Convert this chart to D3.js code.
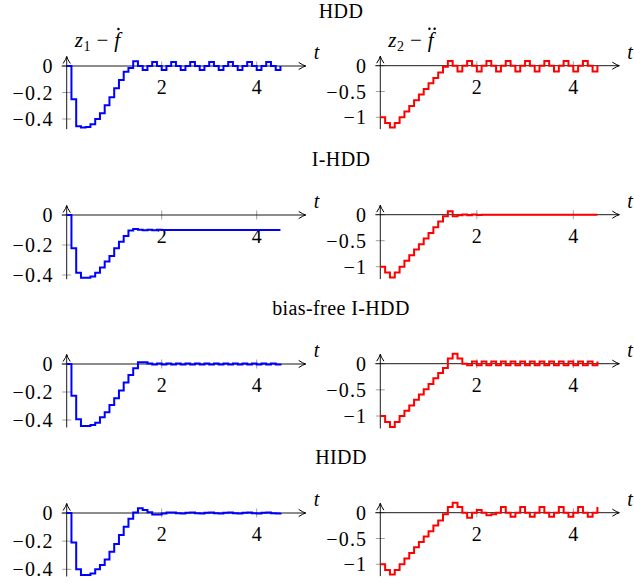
<!DOCTYPE html>
<html><head><meta charset="utf-8">
<script src="https://cdn.jsdelivr.net/npm/d3@7"></script>
<style>body{margin:0;background:#fff}svg{display:block}</style>
</head><body>
<svg id="c" width="634" height="587"></svg>
<script>
// ---------- data ----------
const titles = ["HDD", "I-HDD", "bias-free I-HDD", "HIDD"];
const time = [0,0.1,0.2,0.3,0.4,0.5,0.6,0.7,0.8,0.9,1.0,1.1,1.2,1.3,1.4,1.5,1.6,1.7,1.8,1.9,
  2.0,2.1,2.2,2.3,2.4,2.5,2.6,2.7,2.8,2.9,3.0,3.1,3.2,3.3,3.4,3.5,3.6,3.7,3.8,3.9,
  4.0,4.1,4.2,4.3,4.4,4.5];
const xTicks = [2, 4];
const yTicksZ1 = [0, -0.2, -0.4];
const yTicksZ2 = [0, -0.5, -1];

// z1 - fdot  (left column)
const hddZ1 = [0,-0.25,-0.455,-0.465,-0.46,-0.44,-0.40,-0.357,-0.297,-0.236,-0.168,-0.106,-0.043,-0.015,0.035,0,
  -0.03,0,0.03,0,-0.03,0,0.03,0,-0.03,0,0.03,0,-0.03,0,0.03,0,-0.03,0,0.03,0,-0.03,0,0.03,0,-0.03,0,0.03,0,-0.03,0];
const ihddZ1 = [0,-0.222,-0.385,-0.418,-0.418,-0.41,-0.385,-0.35,-0.31,-0.273,-0.222,-0.178,-0.14,-0.104,-0.093,-0.098,
  -0.102,-0.098,-0.102,-0.099,-0.1,-0.1,-0.1,-0.1,-0.1,-0.1,-0.1,-0.1,-0.1,-0.1,-0.1,-0.1,-0.1,-0.1,-0.1,-0.1,-0.1,-0.1,-0.1,-0.1,-0.1,-0.1,-0.1,-0.1,-0.1,-0.1];
const bfZ1 = [0,-0.226,-0.395,-0.443,-0.443,-0.436,-0.42,-0.38,-0.345,-0.293,-0.245,-0.19,-0.133,-0.079,-0.03,0.012,
  0.012,0.004,-0.003,0.003,-0.003,0.003,-0.003,0.003,-0.003,0.003,-0.003,0.003,-0.003,0.003,-0.003,0.003,-0.003,0.003,-0.003,0.003,-0.003,0.003,-0.003,0.003,-0.003,0.003,-0.003,0.003,-0.003,0.003];
const hiddZ1 = [0,-0.21,-0.40,-0.44,-0.44,-0.43,-0.40,-0.37,-0.33,-0.275,-0.22,-0.157,-0.097,-0.04,0.003,0.034,
  0.022,0.005,-0.01,-0.01,-0.003,0.003,0.003,-0.002,-0.003,0.002,0.003,-0.002,-0.003,0.002,0.003,-0.002,-0.003,0.002,0.003,-0.002,-0.003,0.002,0.003,-0.002,-0.003,0.002,0.003,-0.002,-0.003,0.002];

// z2 - fddot  (right column)
const hddZ2 = [-1.0,-1.11,-1.2,-1.11,-1.0,-0.89,-0.78,-0.67,-0.56,-0.45,-0.34,-0.24,-0.13,-0.02,0.09,0,
  -0.11,0,0.09,0,-0.11,0,0.09,0,-0.11,0,0.09,0,-0.11,0,0.09,0,-0.11,0,0.09,0,-0.11,0,0.09,0,-0.11,0,0.09,0,-0.11,0];
const ihddZ2 = [-1.0,-1.11,-1.21,-1.11,-1.0,-0.885,-0.78,-0.67,-0.57,-0.46,-0.35,-0.24,-0.13,-0.03,0.065,-0.03,
  -0.01,0.006,-0.01,0.006,-0.004,0,0,0,0,0,0,0,0,0,0,0,0,0,0,0,0,0,0,0,0,0,0,0,0,0];
const bfZ2 = [-1.0,-1.115,-1.21,-1.115,-1.0,-0.9,-0.8,-0.69,-0.59,-0.49,-0.39,-0.28,-0.18,-0.08,0.1,0.19,
  0.1,0,-0.03,0.04,-0.03,0.04,-0.03,0.04,-0.03,0.04,-0.03,0.04,-0.03,0.04,-0.03,0.04,-0.03,0.04,-0.03,0.04,-0.03,0.04,-0.03,0.04,-0.03,0.04,-0.03,0.04,-0.03,0.04];
const hiddZ2 = [-1.0,-1.11,-1.2,-1.11,-1.0,-0.89,-0.78,-0.67,-0.57,-0.46,-0.36,-0.25,-0.15,-0.03,0.11,0.195,
  0.11,0,-0.1,0,0.05,0,-0.05,-0.03,0,0.11,0,-0.08,0,0.11,0,-0.08,0,0.11,0,-0.08,0,0.11,0,-0.08,0,0.11,0,-0.08,0,0.11];

const z1Series = [hddZ1, ihddZ1, bfZ1, hiddZ1];
const z2Series = [hddZ2, ihddZ2, bfZ2, hiddZ2];

// ---------- layout ----------
const rowZero = [66, 215, 364, 513];          // pixel row of value 0
const leftRef = [119, 275, 420, 569.3];        // pixel row of -0.4 (left)
const rightRef = [117.3, 266.7, 416, 564.3];   // pixel row of -1 (right)
const titleY = [18, 166, 315, 464];
const FONT = "'Liberation Serif', 'Times New Roman', serif";

const svg = d3.select("#c");

function drawPanel(p) {
  const x = d3.scaleLinear().domain([0, 4]).range([p.xa, p.xb]);
  const y = d3.scaleLinear().domain([p.refVal, 0]).range([p.yRef, p.y0]);
  const g = svg.append("g");
  const x0 = x(0), y0 = y(0);
  const xEnd = x0 + 239;
  const yMin = d3.min(p.values);
  const yBottom = y(yMin) + 1.5;
  const yTop = y0 - 9.5;

  // ticks (gray)
  g.selectAll(".xt").data(xTicks).join("line")
    .attr("x1", d => x(d)).attr("x2", d => x(d))
    .attr("y1", y0 - 4.5).attr("y2", y0 + 4.5)
    .attr("stroke", "#a0a0a0").attr("stroke-width", 1);
  g.selectAll(".yt").data(p.ticks).join("line")
    .attr("x1", x0 - 4.5).attr("x2", x0 + 4.5)
    .attr("y1", d => y(d)).attr("y2", d => y(d))
    .attr("stroke", "#a0a0a0").attr("stroke-width", 1);

  // axes
  g.append("line").attr("x1", x0 - 5).attr("x2", xEnd).attr("y1", y0).attr("y2", y0)
    .attr("stroke", "#000").attr("stroke-width", 0.9);
  g.append("line").attr("x1", x0).attr("x2", x0).attr("y1", yBottom).attr("y2", yTop)
    .attr("stroke", "#000").attr("stroke-width", 0.9);
  g.append("path")
    .attr("d", `M${xEnd-7},${y0-3.6} Q${xEnd-2.5},${y0-0.6} ${xEnd},${y0} Q${xEnd-2.5},${y0+0.6} ${xEnd-7},${y0+3.6}`)
    .attr("fill", "none").attr("stroke", "#000").attr("stroke-width", 1);
  g.append("path")
    .attr("d", `M${x0-3.6},${yTop+7} Q${x0-0.6},${yTop+2.5} ${x0},${yTop} Q${x0+0.6},${yTop+2.5} ${x0+3.6},${yTop+7}`)
    .attr("fill", "none").attr("stroke", "#000").attr("stroke-width", 1);

  // tick labels
  const fmt = d3.format("");
  g.selectAll(".yl").data(p.ticks).join("text")
    .attr("x", x0 - 13).attr("y", d => y(d)).attr("dy", "0.35em")
    .attr("text-anchor", "end").attr("font-family", FONT).attr("font-size", 20)
    .attr("letter-spacing", 1.2)
    .text(d => fmt(d));
  g.selectAll(".xl").data(xTicks).join("text")
    .attr("x", d => x(d)).attr("y", y0 + 21).attr("dy", "0.35em")
    .attr("text-anchor", "middle").attr("font-family", FONT).attr("font-size", 20)
    .text(d => fmt(d));

  // t label
  g.append("text").attr("x", xEnd + 8).attr("y", y0 - 7)
    .attr("font-family", FONT).attr("font-style", "italic").attr("font-size", 20).text("t");

  // data line
  const line = d3.line().x((d, i) => x(time[i])).y(d => y(d)).curve(d3.curveStepAfter);
  g.append("path").datum(p.values).attr("d", line)
    .attr("fill", "none").attr("stroke", p.color).attr("stroke-width", 2)
    .attr("stroke-linejoin", "miter");

  // y-axis label (first row only)
  if (p.label) {
    const fs = 21;
    const t = g.append("text").attr("x", x0 + 8).attr("y", y0 - 19)
      .attr("font-family", FONT).attr("font-size", fs);
    t.append("tspan").attr("font-style", "italic").text("z");
    t.append("tspan").attr("font-size", 14).attr("dy", 4).attr("dx", 0.5).text(p.label.sub);
    t.append("tspan").attr("dy", -4).attr("dx", 6).text("\u2212");
    t.append("tspan").attr("font-style", "italic").attr("dx", 6).text("f");
    const box = t.node().getExtentOfChar(3);
    const cx = box.x + box.width * 0.72;
    const cy = (y0 - 19) - fs * 0.86;
    const dots = p.label.dots === 1 ? [0] : [-2.6, 2.6];
    dots.forEach(o => g.append("circle").attr("cx", cx + o).attr("cy", cy).attr("r", 1.25).attr("fill", "#000"));
  }
}

for (let r = 0; r < 4; r++) {
  svg.append("text").attr("x", 341).attr("y", titleY[r])
    .attr("text-anchor", "middle").attr("font-family", FONT).attr("font-size", 20)
    .attr("letter-spacing", 0.4)
    .text(titles[r]);
  drawPanel({
    values: z1Series[r], xa: 66.7, xb: 256.7, y0: rowZero[r], yRef: leftRef[r], refVal: -0.4,
    ticks: yTicksZ1, color: "#0000ff",
    label: r === 0 ? { sub: "1", dots: 1 } : null
  });
  drawPanel({
    values: z2Series[r], xa: 380.3, xb: 573.3, y0: rowZero[r] - 0.3, yRef: rightRef[r], refVal: -1,
    ticks: yTicksZ2, color: "#ff0000",
    label: r === 0 ? { sub: "2", dots: 2 } : null
  });
}
</script>
</body></html>
